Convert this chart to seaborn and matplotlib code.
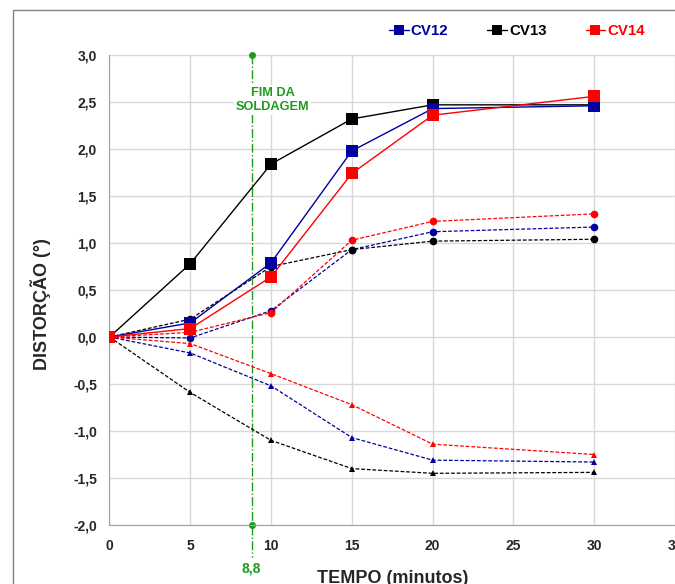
import numpy as np
import pandas as pd
import matplotlib
matplotlib.use('Agg')
import matplotlib.pyplot as plt
import seaborn as sns
from matplotlib.ticker import MultipleLocator, FuncFormatter
from matplotlib.lines import Line2D
from matplotlib.patches import Rectangle

# data
tempo = [0, 5, 10, 15, 20, 30]

cv12_sq = [0.0, 0.15, 0.79, 1.98, 2.43, 2.46]
cv13_sq = [0.0, 0.78, 1.84, 2.32, 2.47, 2.47]
cv14_sq = [0.0, 0.09, 0.64, 1.74, 2.36, 2.56]

cv12_ci = [0.0, -0.01, 0.28, 0.93, 1.12, 1.17]
cv13_ci = [0.0, 0.19, 0.75, 0.93, 1.02, 1.04]
cv14_ci = [0.0, 0.05, 0.26, 1.03, 1.23, 1.31]

cv12_tr = [0.0, -0.17, -0.52, -1.07, -1.31, -1.33]
cv13_tr = [0.0, -0.59, -1.10, -1.40, -1.45, -1.44]
cv14_tr = [0.0, -0.07, -0.39, -0.72, -1.14, -1.25]

fim_soldagem = 8.8
nomes = ['CV12', 'CV13', 'CV14']
cores = {'CV12': '#0000a0', 'CV13': '#000000', 'CV14': '#ff0000'}
verde = '#1e9a1e'

sns.set_style('white')
plt.rcParams['font.family'] = ['Liberation Sans', 'DejaVu Sans']
plt.rcParams['axes.unicode_minus'] = False

fig = plt.figure(figsize=(6.75, 5.84), dpi=100)
ax = fig.add_axes([0.1622, 0.101, 0.8378, 0.8048])

# outer frame of the original figure
fig.patches.append(Rectangle((13 / 675, -0.1), 1.2, 1 - 10 / 584 + 0.1,
                             transform=fig.transFigure, fill=False,
                             edgecolor='#808080', lw=1, zorder=0))

dash = (3, 1.5)
series = [
    (cv12_ci, 'CV12', 'o', 5.5), (cv13_ci, 'CV13', 'o', 5.5), (cv14_ci, 'CV14', 'o', 5.5),
    (cv12_tr, 'CV12', '^', 5), (cv13_tr, 'CV13', '^', 5), (cv14_tr, 'CV14', '^', 5),
]
for vals, nome, mk, ms in series:
    sns.lineplot(x=tempo, y=vals, ax=ax, color=cores[nome], lw=0.9, marker=mk,
                 markersize=ms, markeredgewidth=0, zorder=3)
    ax.lines[-1].set_dashes(dash)

for vals, nome in zip([cv13_sq, cv12_sq, cv14_sq], ['CV13', 'CV12', 'CV14']):
    sns.lineplot(x=tempo, y=vals, ax=ax, color=cores[nome], lw=1, marker='s',
                 markersize=8.8, markeredgewidth=0, zorder=4)

# end of welding line
ax.plot([fim_soldagem] * 3, [3.0, -2.0, -2.34], color=verde, lw=1,
        linestyle='-.', marker='o', markersize=4, markevery=[0, 1],
        clip_on=False, zorder=2.5)
ax.text(fim_soldagem, -2.46, '8,8', color=verde, fontsize=10,
        fontweight='bold', ha='center', va='center')
ax.text(10.1, 2.52, 'FIM DA\nSOLDAGEM', color=verde, fontsize=9.2,
        fontweight='bold', ha='center', va='center', linespacing=1.3,
        bbox=dict(facecolor='white', edgecolor='none', pad=1), zorder=2.7)

ax.set_xlim(0, 35)
ax.set_ylim(-2.0, 3.0)
ax.xaxis.set_major_locator(MultipleLocator(5))
ax.xaxis.set_minor_locator(MultipleLocator(1))
ax.yaxis.set_major_locator(MultipleLocator(0.5))
ax.yaxis.set_minor_locator(MultipleLocator(0.1))
ax.yaxis.set_major_formatter(FuncFormatter(lambda v, p: f'{v:.1f}'.replace('.', ',')))
ax.grid(True, which='major', color='#d8d8d8', lw=1)
ax.set_axisbelow(True)

for s in ['top', 'right']:
    ax.spines[s].set_visible(False)
for s in ['left', 'bottom']:
    ax.spines[s].set_color('#a0a0a0')

ax.tick_params(axis='y', which='major', direction='inout', length=8, color='#a0a0a0', pad=5)
ax.tick_params(axis='y', which='minor', direction='inout', length=6, color='#a0a0a0')
ax.tick_params(axis='x', which='major', direction='inout', length=6, color='#a0a0a0', pad=7)
ax.tick_params(axis='x', which='minor', direction='in', length=4, color='#a0a0a0')
for lab in ax.get_xticklabels() + ax.get_yticklabels():
    lab.set_fontweight('bold')
    lab.set_fontsize(10)

ax.set_xlabel('TEMPO (minutos)', fontsize=13, fontweight='bold', labelpad=12)
ax.set_ylabel('DISTORÇÃO (°)', fontsize=13, fontweight='bold', labelpad=16)
ax.yaxis.label.set_y(0.47)

handles = [Line2D([], [], color=cores[n], lw=1, marker='s', markersize=7,
                  markeredgewidth=0) for n in nomes]
fig.legend(handles, nomes, loc='center', bbox_to_anchor=(517 / 675, 1 - 31 / 584),
           ncol=3, frameon=False, handlelength=1.3, handletextpad=0.15,
           columnspacing=2.6, labelcolor='linecolor',
           prop={'weight': 'bold', 'size': 10.8})

fig.savefig('out.png', dpi=100)
